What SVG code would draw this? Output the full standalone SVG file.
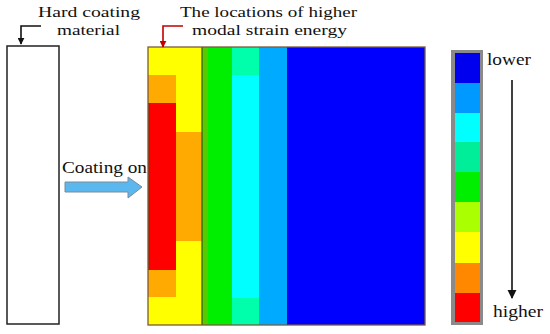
<svg xmlns="http://www.w3.org/2000/svg" width="550" height="334" viewBox="0 0 550 334">
<defs>
<style>
.t{font-family:"Liberation Serif","DejaVu Serif",serif;font-size:17px;fill:#111}
.s{font-size:15.5px}
.lead{fill:none;stroke:#111;stroke-width:1.6}
.leadr{fill:none;stroke:#c00000;stroke-width:1.6}
</style>
<marker id="ah" viewBox="0 0 10 10" refX="9" refY="5" markerWidth="7" markerHeight="7" orient="auto" markerUnits="userSpaceOnUse"><path d="M0,0 L10,5 L0,10 z" fill="#111"/></marker>
<marker id="ahr" viewBox="0 0 10 10" refX="9" refY="5" markerWidth="7" markerHeight="7" orient="auto" markerUnits="userSpaceOnUse"><path d="M0,0 L10,5 L0,10 z" fill="#c00000"/></marker>
<marker id="ahb" viewBox="0 0 10 10" refX="9" refY="5" markerWidth="9" markerHeight="12" orient="auto" markerUnits="userSpaceOnUse"><path d="M0,0 L10,5 L0,10 z" fill="#111"/></marker>
</defs>
<rect width="550" height="334" fill="#fff"/>

<g id="hard-coating-material">
<rect x="7" y="46" width="52" height="278" fill="#fff" stroke="#222" stroke-width="1.5"/>
<text class="t s" x="38" y="17" textLength="102" lengthAdjust="spacingAndGlyphs">Hard coating</text>
<text class="t s" x="57" y="35" textLength="63" lengthAdjust="spacingAndGlyphs">material</text>
</g>

<g id="strain-energy-field">
<rect x="148" y="47" width="54" height="278" fill="#ffff00"/>
<rect x="148" y="75" width="28" height="28" fill="#ffaa00"/>
<rect x="148" y="103" width="28" height="167" fill="#ff0000"/>
<rect x="148" y="270" width="28" height="27" fill="#ffaa00"/>
<rect x="176" y="132" width="26" height="109" fill="#ffaa00"/>
<rect x="202" y="47" width="6" height="278" fill="#55cc00"/>
<line x1="202" y1="47" x2="202" y2="325" stroke="#2a5a00" stroke-width="1.2"/>
<rect x="208" y="47" width="24" height="278" fill="#00ee00"/>
<rect x="232" y="47" width="27" height="278" fill="#00ffff"/>
<rect x="232" y="47" width="27" height="28" fill="#00ffaa"/>
<rect x="232" y="298" width="27" height="27" fill="#00ffaa"/>
<rect x="259" y="47" width="28" height="278" fill="#00aaff"/>
<rect x="287" y="47" width="138" height="278" fill="#0000ff"/>
<line x1="149" y1="103" x2="149" y2="270" stroke="#aa2200" stroke-width="2"/>
<rect x="148" y="47" width="277" height="278" fill="none" stroke="#7a5a3a" stroke-width="1.3"/>
<text class="t s" x="180" y="17" textLength="177" lengthAdjust="spacingAndGlyphs">The locations of higher</text>
<text class="t s" x="192" y="35" textLength="155" lengthAdjust="spacingAndGlyphs">modal strain energy</text>
</g>

<g id="color-scale">
<rect x="451" y="50" width="32" height="275" fill="#8a8a8a"/>
<rect x="455" y="53" width="25" height="30" fill="#0000ee"/>
<rect x="455" y="83" width="25" height="30" fill="#0099ff"/>
<rect x="455" y="113" width="25" height="29" fill="#00ffff"/>
<rect x="455" y="142" width="25" height="30" fill="#00ee99"/>
<rect x="455" y="172" width="25" height="30" fill="#00ee00"/>
<rect x="455" y="202" width="25" height="30" fill="#aaff00"/>
<rect x="455" y="232" width="25" height="31" fill="#ffff00"/>
<rect x="455" y="263" width="25" height="30" fill="#ff8800"/>
<rect x="455" y="293" width="25" height="29" fill="#ff0000"/>
<text class="t" x="487" y="65" textLength="44" lengthAdjust="spacingAndGlyphs">lower</text>
<text class="t" x="493" y="317" textLength="50" lengthAdjust="spacingAndGlyphs">higher</text>
</g>

<g id="coating-on">
<text class="t" x="62" y="173" textLength="85" lengthAdjust="spacingAndGlyphs">Coating on</text>
</g>

<g id="connectors">
<path class="lead" d="M41,26 H21 V44" marker-end="url(#ah)"/>
<path class="leadr" d="M183,26 H163 V47" marker-end="url(#ahr)"/>
<path d="M65,182 H128 V177 L142,187 L128,198 V192 H65 Z" fill="#5ab8ee" stroke="#7a8a9a" stroke-width="1"/>
<line x1="512" y1="80" x2="512" y2="298" stroke="#111" stroke-width="1.6" marker-end="url(#ahb)"/>
</g>
</svg>
